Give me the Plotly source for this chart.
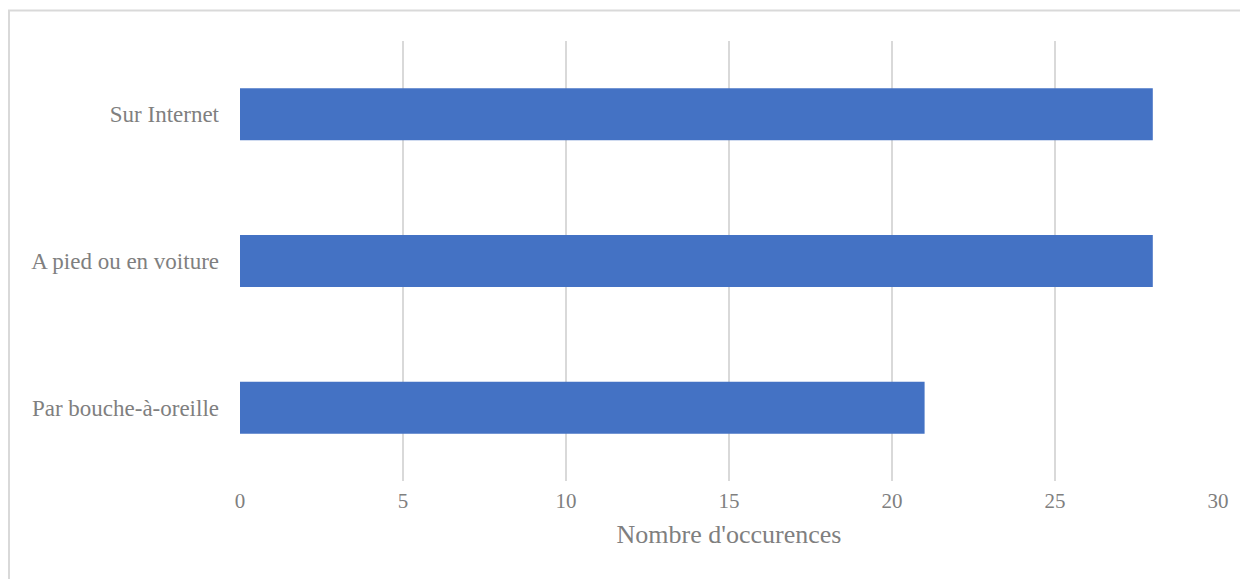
import plotly.graph_objects as go

categories = ["Par bouche-à-oreille", "A pied ou en voiture", "Sur Internet"]
values = [21, 28, 28]
x_ticks = [0, 5, 10, 15, 20, 25, 30]

grey = "#7f7f7f"
font = "'Liberation Serif', 'Times New Roman', serif"

fig = go.Figure(go.Bar(
    y=categories, x=values, orientation="h",
    marker=dict(color="#4472C4", line=dict(width=0)),
))

# page body has an 8px margin, so the figure is 8px smaller on each axis
fig.update_layout(
    width=1240, height=571,
    margin=dict(l=232, r=30, t=33, b=98),
    paper_bgcolor="white", plot_bgcolor="white",
    bargap=0.645,
    showlegend=False,
    font=dict(family=font, color=grey, size=21),
    shapes=[dict(type="rect", xref="paper", yref="paper",
                 x0=-0.2362, x1=1.05, y0=-0.26, y1=1.0694,
                 line=dict(color="#d9d9d9", width=2), layer="below")],
)
fig.update_xaxes(
    range=[0, 30], tickvals=x_ticks, showgrid=True, gridcolor="#d9d9d9", gridwidth=1.5,
    zeroline=False, showline=False, ticks="", ticklabelstandoff=5,
    tickfont=dict(family=font, size=21, color=grey),
    title=dict(text="Nombre d'occurences", font=dict(family=font, size=26, color=grey), standoff=12),
)
fig.update_yaxes(
    showgrid=False, zeroline=False, showline=False, ticks="",
    ticklabelstandoff=20, tickfont=dict(family=font, size=23, color=grey),
)

fig.write_html("out.html")
